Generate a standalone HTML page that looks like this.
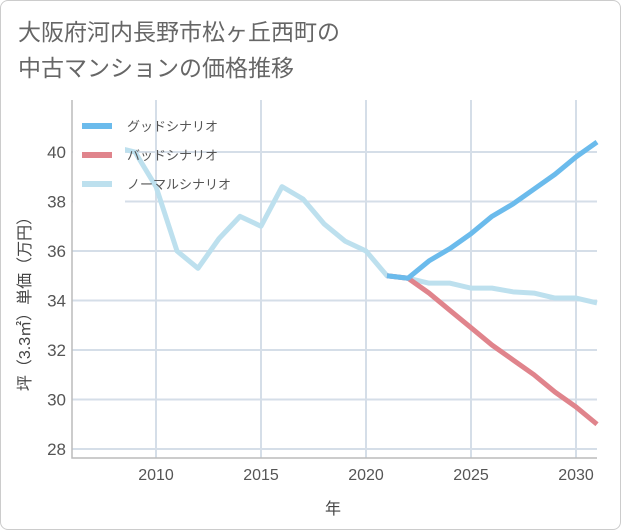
<!DOCTYPE html>
<html><head><meta charset="utf-8"><style>
body{margin:0;background:#fff;font-family:"Liberation Sans","Noto Sans CJK JP",sans-serif}
.frame{position:absolute;left:0;top:0;width:619px;height:528px;border:1px solid #ccc;border-radius:8px;background:#fff}
.title{position:absolute;left:18px;top:14px;font-size:23px;line-height:36px;color:#666}
</style></head><body>
<div class="frame"></div>
<div class="title">大阪府河内長野市松ヶ丘西町の<br>中古マンションの価格推移</div>
<svg id="c" width="621" height="530" style="position:absolute;left:0;top:0"></svg>
<script>
const years=[2008,2009,2010,2011,2012,2013,2014,2015,2016,2017,2018,2019,2020,2021,2022,2023,2024,2025,2026,2027,2028,2029,2030,2031];
const normal=[40.2,40.0,38.6,36.0,35.3,36.5,37.4,37.0,38.6,38.1,37.1,36.4,36.0,35.0,34.9,34.7,34.7,34.5,34.5,34.35,34.3,34.1,34.1,33.9];
const fYears=[2021,2022,2023,2024,2025,2026,2027,2028,2029,2030,2031];
const good=[35.0,34.9,35.6,36.1,36.7,37.4,37.9,38.5,39.1,39.8,40.4];
const bad=[35.0,34.9,34.3,33.6,32.9,32.2,31.6,31.0,30.3,29.7,29.0];
const xTicks=[2010,2015,2020,2025,2030];
const yTicks=[28,30,32,34,36,38,40];
const L=72,R=597,T=100,B=458;
const x=v=>L+(v-2006)*(R-L)/25;
const y=v=>449-(v-28)*24.75;
const s=document.getElementById('c');const NS='http://www.w3.org/2000/svg';
function mk(t,a,txt){const e=document.createElementNS(NS,t);for(const k in a)e.setAttribute(k,a[k]);if(txt!=null)e.textContent=txt;s.appendChild(e);return e;}
for(const t of xTicks){const g=mk('line',{x1:x(t),x2:x(t),y1:T,y2:B,stroke:'#d5dee8','stroke-width':2});

const l=mk('text',{x:x(t),y:480,'text-anchor':'middle','font-size':16,fill:'#555'},t);
}
for(const t of yTicks){const g=mk('line',{x1:L,x2:R,y1:y(t),y2:y(t),stroke:'#d5dee8','stroke-width':2});

const l=mk('text',{x:66,y:y(t)+6,'text-anchor':'end','font-size':17,fill:'#555'},t);
}
const ax=mk('path',{d:`M${L} ${T}V${B}H${R}`,stroke:'#bbb',fill:'none','stroke-width':1.5});

function line(xs,vs,col,name){const p=mk('polyline',{points:xs.map((v,i)=>x(v)+','+y(vs[i])).join(' '),fill:'none',stroke:col,'stroke-width':5,'stroke-linejoin':'round'});
}
line(years,normal,'#bde0ee','normal-line');
line(fYears,bad,'#e0848c','bad-line');
line(fYears,good,'#6bbbec','good-line');
const lb=mk('rect',{x:73,y:101,width:52,height:104,fill:'#fff'});

const leg=[['グッドシナリオ','#6bbbec'],['バッドシナリオ','#e0848c'],['ノーマルシナリオ','#bde0ee']];
leg.forEach((d,i)=>{const yy=126+i*29;
const r=mk('rect',{x:82,y:yy-3,width:30,height:6,fill:d[1]});
const t=mk('text',{x:127,y:yy+5,'font-size':13,fill:'#555'},d[0]);});
const xt=mk('text',{x:333,y:514,'text-anchor':'middle','font-size':16,fill:'#444'},'年');

const yt=mk('text',{x:0,y:0,'text-anchor':'middle','font-size':16,fill:'#444',transform:'translate(30,300) rotate(-90)'},'坪（3.3㎡）単価（万円）');

</script>
</body></html>
